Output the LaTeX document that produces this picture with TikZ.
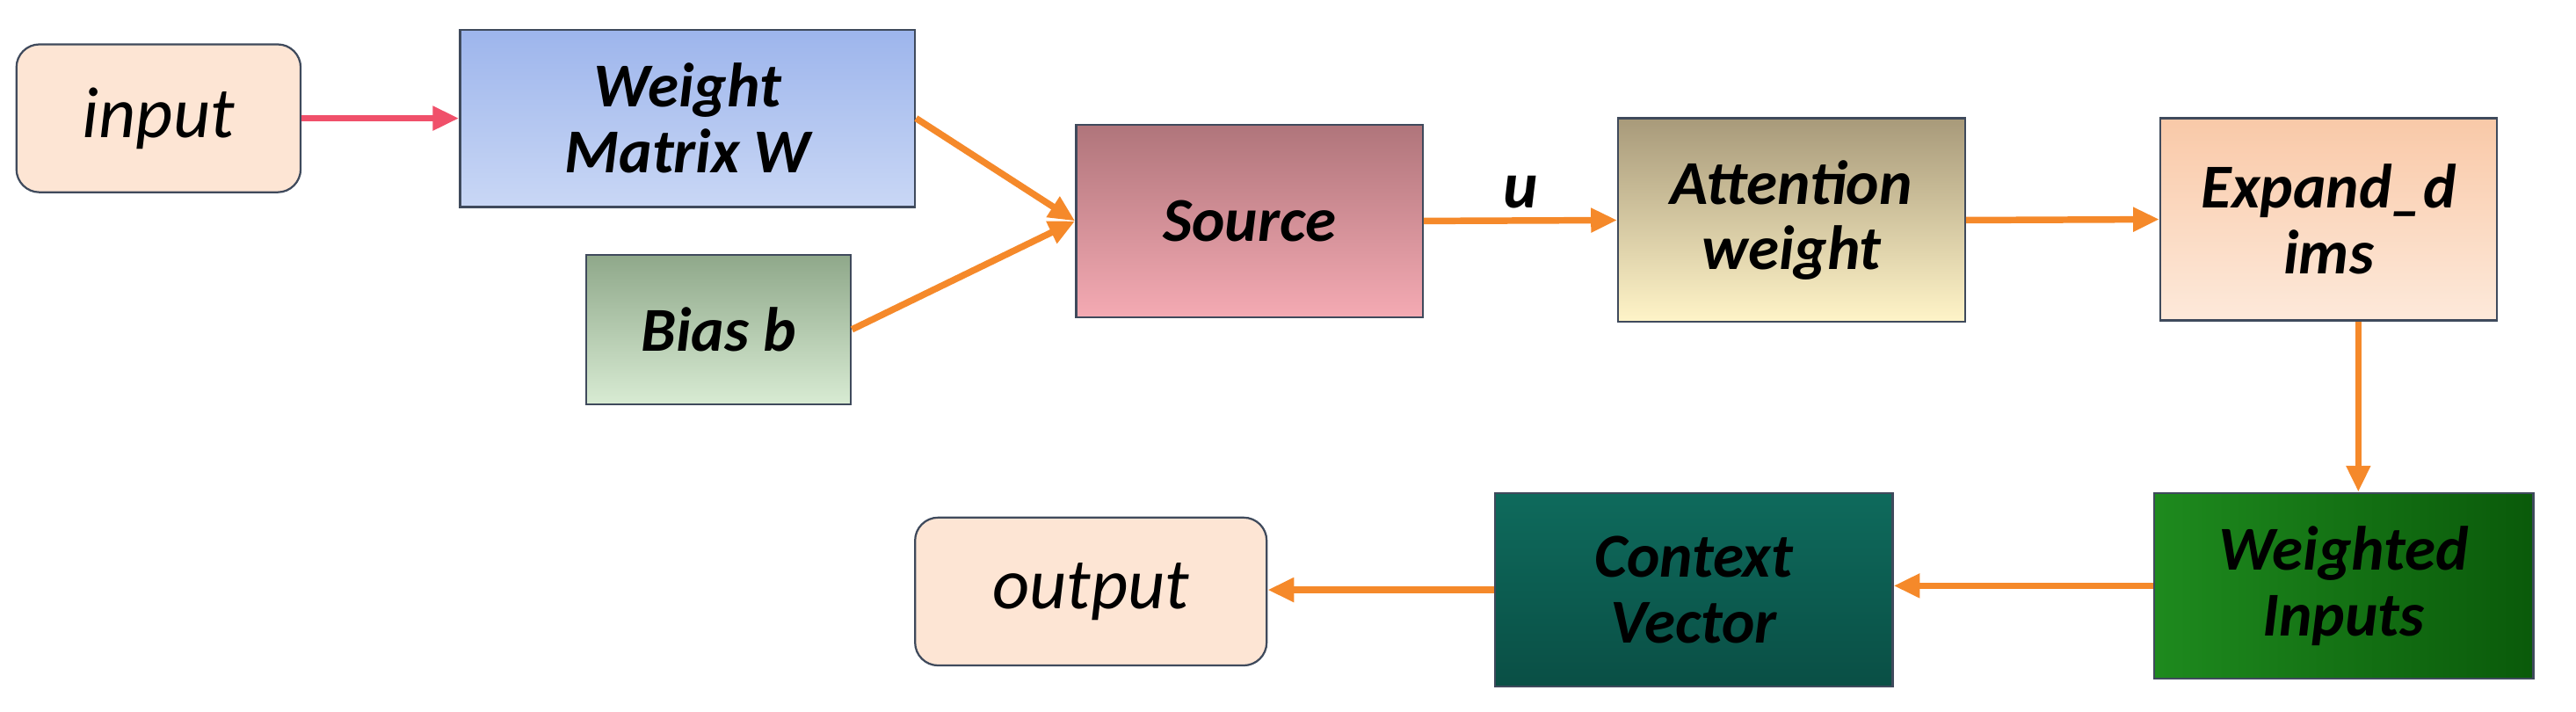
\documentclass[tikz,border=0pt]{standalone}
\usepackage{fontspec}
\setmainfont{Carlito}
\usetikzlibrary{arrows.meta}
\definecolor{peach}{HTML}{FDE5D4}
\definecolor{bord}{HTML}{3F4A5C}
\definecolor{org}{HTML}{F5892A}
\definecolor{redar}{HTML}{F0506A}
\definecolor{wT}{HTML}{9DB5EC}\definecolor{wB}{HTML}{C9D7F5}
\definecolor{bT}{HTML}{8FA88A}\definecolor{bB}{HTML}{D8EBD3}
\definecolor{sT}{HTML}{B0757B}\definecolor{sB}{HTML}{F4AAB3}
\definecolor{aT}{HTML}{A89A7A}\definecolor{aB}{HTML}{FFF4C8}
\definecolor{eT}{HTML}{F9C9A8}\definecolor{eB}{HTML}{FDE9DA}
\definecolor{giL}{HTML}{1E8A1E}\definecolor{giR}{HTML}{0A5A0A}
\definecolor{cT}{HTML}{0E6A5C}\definecolor{cB}{HTML}{0A4F45}
\begin{document}
\begin{tikzpicture}[x=1pt,y=-1pt,
 box/.style={draw=bord,line width=1.2pt,align=center,font=\fontsize{38}{40}\selectfont\bfseries\itshape,inner sep=0pt},
 rbox/.style={box,rounded corners=14pt,fill=peach,font=\fontsize{44}{46}\selectfont\itshape},
 arr/.style={draw=org,line width=4pt,-{Triangle[length=16pt,width=14pt]}}]
\useasboundingbox (0,0) rectangle (1568,433);
\node[rbox,minimum width=173pt,minimum height=90pt] (in) at (96.5,72) {input};
\node[box,minimum width=277pt,minimum height=108pt,top color=wT,bottom color=wB] (w) at (418.5,72) {Weight\\Matrix W};
\node[box,minimum width=161pt,minimum height=91pt,top color=bT,bottom color=bB] (b) at (437.5,200.5) {Bias b};
\node[box,minimum width=211pt,minimum height=117pt,top color=sT,bottom color=sB] (s) at (760.5,134.5) {Source};
\node[box,minimum width=211pt,minimum height=124pt,top color=aT,bottom color=aB] (a) at (1090.5,134) {Attention\\weight};
\node[box,minimum width=205pt,minimum height=123pt,top color=eT,bottom color=eB] (e) at (1417.5,133.5) {Expand\_d\\ims};
\node[box,minimum width=231pt,minimum height=113pt,left color=giL,right color=giR] (wi) at (1426.5,356.5) {Weighted\\Inputs};
\node[box,minimum width=242pt,minimum height=118pt,top color=cT,bottom color=cB] (c) at (1031,359) {Context\\Vector};
\node[rbox,minimum width=214pt,minimum height=90pt] (o) at (664,360) {output};
\draw[arr,draw=redar] (in.east) -- (w.west);
\draw[arr] (w.east) -- (s.west);
\draw[arr] (b.east) -- (s.west);
\draw[arr] (s.east) -- node[above=2pt,font=\fontsize{40}{42}\selectfont\bfseries\itshape]{u} (a.west);
\draw[arr] (a.east) -- (e.west);
\draw[arr] ([xshift=18pt]e.south) -- ([xshift=18pt]e.south |- wi.north);
\draw[arr] (wi.west) -- (wi.west -| c.east);
\draw[arr] (c.west) -- (c.west -| o.east);
\end{tikzpicture}
\end{document}
